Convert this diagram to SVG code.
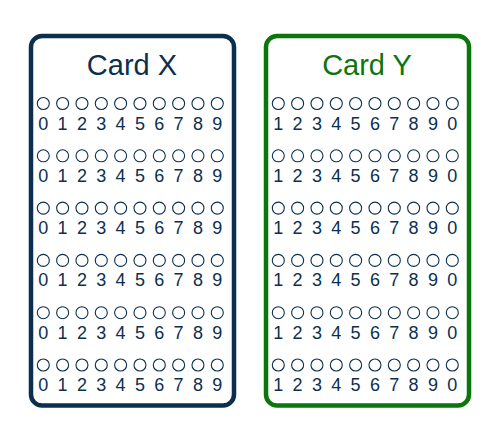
<svg xmlns="http://www.w3.org/2000/svg" width="500" height="440" viewBox="0 0 500 440">
<style>
.card{fill:#fff;stroke-width:4.5}
.x{stroke:#0c2f4f}
.y{stroke:#0b760b}
.t{font-family:"Liberation Sans",Arial,sans-serif;font-size:29px;text-anchor:middle}
.d{font-family:"Liberation Sans",Arial,sans-serif;font-size:18px;text-anchor:middle;fill:#0c2f4f}
.c{fill:none;stroke:#0c2f4f;stroke-width:1.1}
</style>
<defs>
<g id="circles">
<circle class="c" cx="0" cy="0" r="6"/><circle class="c" cx="19.33" cy="0" r="6"/><circle class="c" cx="38.67" cy="0" r="6"/><circle class="c" cx="58" cy="0" r="6"/><circle class="c" cx="77.33" cy="0" r="6"/><circle class="c" cx="96.67" cy="0" r="6"/><circle class="c" cx="116" cy="0" r="6"/><circle class="c" cx="135.33" cy="0" r="6"/><circle class="c" cx="154.67" cy="0" r="6"/><circle class="c" cx="174" cy="0" r="6"/>
</g>
<g id="rowX">
<use href="#circles"/>
<text class="d" y="26"><tspan x="0">0</tspan><tspan x="19.33">1</tspan><tspan x="38.67">2</tspan><tspan x="58">3</tspan><tspan x="77.33">4</tspan><tspan x="96.67">5</tspan><tspan x="116">6</tspan><tspan x="135.33">7</tspan><tspan x="154.67">8</tspan><tspan x="174">9</tspan></text>
</g>
<g id="rowY">
<use href="#circles"/>
<text class="d" y="26"><tspan x="0">1</tspan><tspan x="19.33">2</tspan><tspan x="38.67">3</tspan><tspan x="58">4</tspan><tspan x="77.33">5</tspan><tspan x="96.67">6</tspan><tspan x="116">7</tspan><tspan x="135.33">8</tspan><tspan x="154.67">9</tspan><tspan x="174">0</tspan></text>
</g>
</defs>
<g id="cardX">
<rect class="card x" x="31" y="36" width="203" height="369.5" rx="11"/>
<text class="t" x="132" y="75" fill="#0c2f4f">Card X</text>
<use href="#rowX" x="43.3" y="103.5"/>
<use href="#rowX" x="43.3" y="155.8"/>
<use href="#rowX" x="43.3" y="208.1"/>
<use href="#rowX" x="43.3" y="260.4"/>
<use href="#rowX" x="43.3" y="312.7"/>
<use href="#rowX" x="43.3" y="365"/>
</g>
<g id="cardY">
<rect class="card y" x="266" y="36" width="203" height="369.5" rx="11"/>
<text class="t" x="367" y="75" fill="#0b760b">Card Y</text>
<use href="#rowY" x="278.3" y="103.5"/>
<use href="#rowY" x="278.3" y="155.8"/>
<use href="#rowY" x="278.3" y="208.1"/>
<use href="#rowY" x="278.3" y="260.4"/>
<use href="#rowY" x="278.3" y="312.7"/>
<use href="#rowY" x="278.3" y="365"/>
</g>
<g id="connectors"/>
</svg>
